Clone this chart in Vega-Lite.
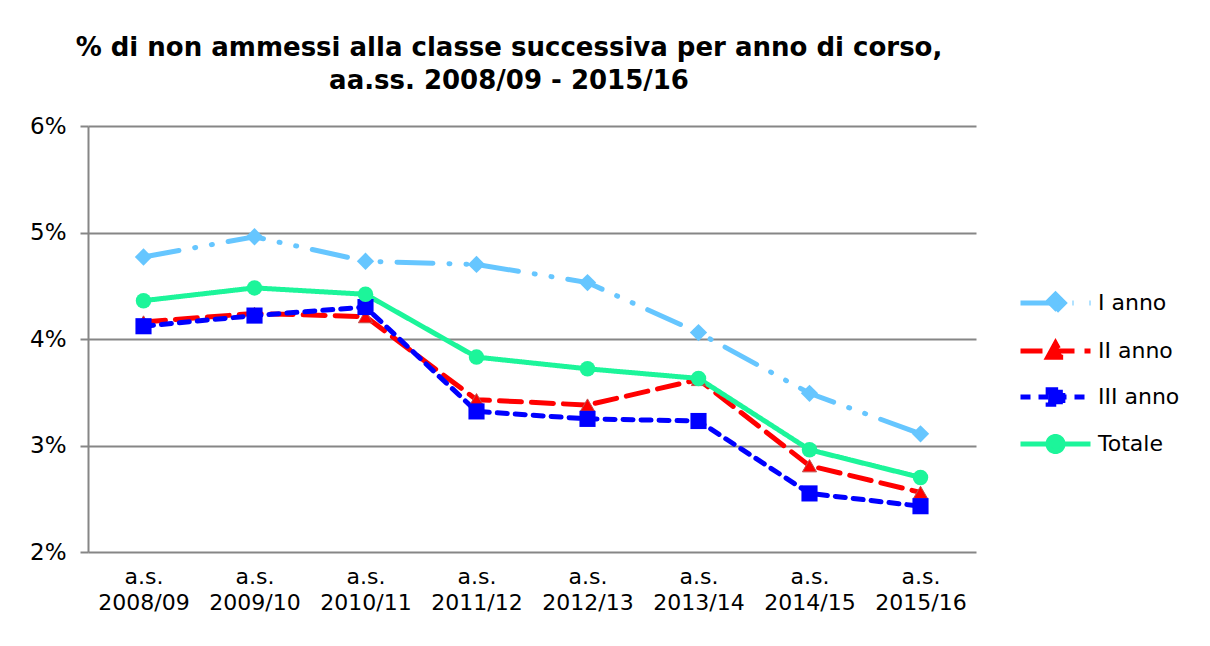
{
  "$schema": "https://vega.github.io/schema/vega-lite/v6.json",
  "width": 888,
  "height": 426,
  "autosize": "none",
  "padding": {"left": 88, "top": 126, "right": 234, "bottom": 94},
  "background": "white",
  "title": {
    "text": ["% di non ammessi alla classe successiva per anno di corso,", "aa.ss. 2008/09 - 2015/16"],
    "font": "DejaVu Sans",
    "fontSize": 26,
    "fontWeight": "bold",
    "color": "#000000",
    "anchor": "middle",
    "dx": -23,
    "offset": 21,
    "lineHeight": 33
  },
  "config": {
    "view": {"stroke": null},
    "font": "DejaVu Sans"
  },
  "data": {
    "values": [
      {"anno": "a.s. 2008/09", "serie": "I anno", "v": 4.77},
      {"anno": "a.s. 2009/10", "serie": "I anno", "v": 4.96},
      {"anno": "a.s. 2010/11", "serie": "I anno", "v": 4.73},
      {"anno": "a.s. 2011/12", "serie": "I anno", "v": 4.70},
      {"anno": "a.s. 2012/13", "serie": "I anno", "v": 4.53},
      {"anno": "a.s. 2013/14", "serie": "I anno", "v": 4.06},
      {"anno": "a.s. 2014/15", "serie": "I anno", "v": 3.49},
      {"anno": "a.s. 2015/16", "serie": "I anno", "v": 3.11},
      {"anno": "a.s. 2008/09", "serie": "II anno", "v": 4.16},
      {"anno": "a.s. 2009/10", "serie": "II anno", "v": 4.24},
      {"anno": "a.s. 2010/11", "serie": "II anno", "v": 4.21},
      {"anno": "a.s. 2011/12", "serie": "II anno", "v": 3.43},
      {"anno": "a.s. 2012/13", "serie": "II anno", "v": 3.38},
      {"anno": "a.s. 2013/14", "serie": "II anno", "v": 3.62},
      {"anno": "a.s. 2014/15", "serie": "II anno", "v": 2.81},
      {"anno": "a.s. 2015/16", "serie": "II anno", "v": 2.56},
      {"anno": "a.s. 2008/09", "serie": "III anno", "v": 4.12},
      {"anno": "a.s. 2009/10", "serie": "III anno", "v": 4.22},
      {"anno": "a.s. 2010/11", "serie": "III anno", "v": 4.30},
      {"anno": "a.s. 2011/12", "serie": "III anno", "v": 3.32},
      {"anno": "a.s. 2012/13", "serie": "III anno", "v": 3.25},
      {"anno": "a.s. 2013/14", "serie": "III anno", "v": 3.23},
      {"anno": "a.s. 2014/15", "serie": "III anno", "v": 2.55},
      {"anno": "a.s. 2015/16", "serie": "III anno", "v": 2.43},
      {"anno": "a.s. 2008/09", "serie": "Totale", "v": 4.36},
      {"anno": "a.s. 2009/10", "serie": "Totale", "v": 4.48},
      {"anno": "a.s. 2010/11", "serie": "Totale", "v": 4.42},
      {"anno": "a.s. 2011/12", "serie": "Totale", "v": 3.83},
      {"anno": "a.s. 2012/13", "serie": "Totale", "v": 3.72},
      {"anno": "a.s. 2013/14", "serie": "Totale", "v": 3.63},
      {"anno": "a.s. 2014/15", "serie": "Totale", "v": 2.96},
      {"anno": "a.s. 2015/16", "serie": "Totale", "v": 2.70}
    ]
  },
  "encoding": {
    "x": {
      "field": "anno", "type": "ordinal",
      "scale": {"type": "point", "padding": 0.5},
      "axis": {
        "title": null, "labelAngle": 0,
        "labelExpr": "split(datum.label, ' ')",
        "labelFont": "DejaVu Sans",
        "labelFontSize": 22, "labelColor": "#000000", "labelLineHeight": 26,
        "labelPadding": 14,
        "ticks": false, "domain": false, "grid": false
      }
    },
    "y": {
      "field": "v", "type": "quantitative",
      "scale": {"domain": [2, 6], "nice": false, "zero": false},
      "axis": {
        "title": null, "values": [2, 3, 4, 5, 6],
        "labelExpr": "datum.value + '%'",
        "labelFont": "DejaVu Sans",
        "labelFontSize": 23, "labelColor": "#000000", "labelPadding": 14,
        "domainColor": "#868686", "domainWidth": 2,
        "tickColor": "#868686", "tickWidth": 2, "tickSize": 8,
        "gridColor": "#868686", "gridWidth": 2
      }
    },
    "color": {
      "field": "serie", "type": "nominal",
      "scale": {"domain": ["I anno", "II anno", "III anno", "Totale"], "range": ["#66C6FF", "#FF0000", "#0000FF", "#1CF59A"]},
      "legend": null
    }
  },
  "layer": [
    {
      "mark": {"type": "line", "strokeWidth": 5, "strokeCap": "round"},
      "encoding": {
        "strokeDash": {
          "field": "serie", "type": "nominal",
          "scale": {"domain": ["I anno", "II anno", "III anno", "Totale"], "range": [[36, 16, 1, 16, 1, 16], [22, 10], [10, 8], [1, 0]]},
          "legend": {
            "title": null, "orient": "none", "legendX": 965, "legendY": 157,
            "symbolType": {"expr": "datum.value == 'I anno' ? 'M-3,0H1M-1.5,0L-1,-0.5L-0.5,0L-1,0.5Z' : datum.value == 'II anno' ? 'M-3,0H1M-1.44,0.36L-1,-0.44L-0.56,0.36Z' : datum.value == 'III anno' ? 'M-3,0H1M-1.42,-0.42H-0.58V0.42H-1.42Z' : 'M-3,0H1M-0.57,0A0.43,0.43 0 1,1 -1.43,0A0.43,0.43 0 1,1 -0.57,0Z'"},
            "symbolFillColor": {"expr": "datum.value == 'I anno' ? '#66C6FF' : datum.value == 'II anno' ? '#FF0000' : datum.value == 'III anno' ? '#0000FF' : '#1CF59A'"},
            "symbolSize": 1225, "symbolStrokeWidth": 5,
            "labelFont": "DejaVu Sans",
            "labelFontSize": 22, "labelColor": "#000000", "rowPadding": 9, "labelOffset": 5
          }
        },
        "stroke": {
          "field": "serie", "type": "nominal",
          "scale": {"domain": ["I anno", "II anno", "III anno", "Totale"], "range": ["#66C6FF", "#FF0000", "#0000FF", "#1CF59A"]},
          "legend": {
            "title": null, "orient": "none", "legendX": 965, "legendY": 157,
            "symbolType": {"expr": "datum.value == 'I anno' ? 'M-3,0H1M-1.5,0L-1,-0.5L-0.5,0L-1,0.5Z' : datum.value == 'II anno' ? 'M-3,0H1M-1.44,0.36L-1,-0.44L-0.56,0.36Z' : datum.value == 'III anno' ? 'M-3,0H1M-1.42,-0.42H-0.58V0.42H-1.42Z' : 'M-3,0H1M-0.57,0A0.43,0.43 0 1,1 -1.43,0A0.43,0.43 0 1,1 -0.57,0Z'"},
            "symbolFillColor": {"expr": "datum.value == 'I anno' ? '#66C6FF' : datum.value == 'II anno' ? '#FF0000' : datum.value == 'III anno' ? '#0000FF' : '#1CF59A'"},
            "symbolSize": 1225, "symbolStrokeWidth": 5,
            "labelFont": "DejaVu Sans",
            "labelFontSize": 22, "labelColor": "#000000", "rowPadding": 9, "labelOffset": 5
          }
        }
      }
    },
    {
      "transform": [{"filter": "datum.serie == 'I anno'"}],
      "mark": {"type": "point", "filled": true, "opacity": 1, "shape": "diamond", "size": 300, "fill": "#66C6FF", "stroke": null}
    },
    {
      "transform": [{"filter": "datum.serie == 'II anno'"}],
      "mark": {"type": "point", "filled": true, "opacity": 1, "shape": "triangle-up", "size": 200, "fill": "#FF0000", "stroke": "#C0504D", "strokeWidth": 1}
    },
    {
      "transform": [{"filter": "datum.serie == 'III anno'"}],
      "mark": {"type": "point", "filled": true, "opacity": 1, "shape": "square", "size": 260, "fill": "#0000FF", "stroke": null}
    },
    {
      "transform": [{"filter": "datum.serie == 'Totale'"}],
      "mark": {"type": "point", "filled": true, "opacity": 1, "shape": "circle", "size": 240, "fill": "#1CF59A", "stroke": null}
    }
  ]
}
